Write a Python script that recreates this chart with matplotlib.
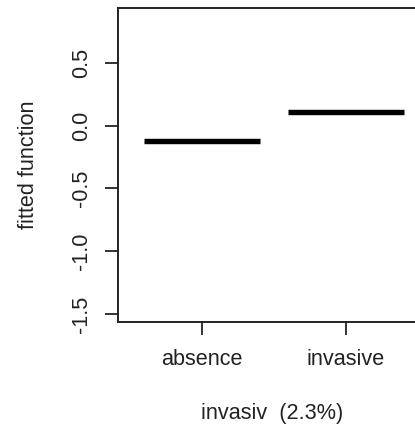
import numpy as np
import matplotlib
matplotlib.use("Agg")
import matplotlib.pyplot as plt

plt.rcParams['font.family'] = ['Liberation Sans', 'DejaVu Sans']
plt.rcParams['axes.unicode_minus'] = False

# categories and fitted values
categories = ["absence", "invasive"]
fitted = [-0.12, 0.11]
yticks = [-1.5, -1.0, -0.5, 0.0, 0.5]

W, H = 415, 429
fig = plt.figure(figsize=(W / 100, H / 100), dpi=100)
# plot box: left 118px, top 8px, bottom 322px, right edge cut off
ax = fig.add_axes([118 / W, (H - 322) / H, (422 - 118) / W, (322 - 8) / H])

xpos = np.arange(1, len(categories) + 1)
ax.hlines(fitted, xpos - 0.4, xpos + 0.4, colors="black", linewidth=3.9)

ax.set_xlim(1 - 84 / 144, 2 + 76 / 144)
ax.set_ylim(-1.563, 0.937)

ax.set_xticks(xpos, categories)
ax.set_yticks(yticks, ["%.1f" % v for v in yticks])

fs = 15.6
ax.tick_params(axis="both", length=9.4, width=1.3, labelsize=fs, color="#222222",
               labelcolor="#222222")
ax.tick_params(axis="x", pad=10)
ax.tick_params(axis="y", pad=9, labelrotation=90)
for lab in ax.get_yticklabels():
    lab.set_va("center")

for s in ax.spines.values():
    s.set_linewidth(1.4)
    s.set_color("#222222")

fig.text(272 / W, 1 - 413 / H, "invasiv  (2.3%)", fontsize=fs, ha="center", va="center",
         color="#222222")
fig.text(28 / W, 1 - 165 / H, "fitted function", fontsize=fs, ha="center", va="center",
         rotation=90, color="#222222")

fig.savefig("out.png", dpi=100)
